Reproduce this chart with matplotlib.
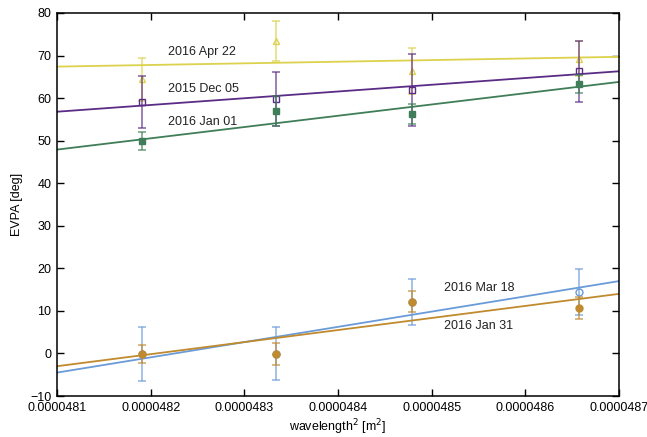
import matplotlib
matplotlib.use('Agg')
import matplotlib.pyplot as plt

plt.rcParams['font.family'] = ['Liberation Sans', 'DejaVu Sans']

# wavelength^2 of the four IFs [m^2]
wl2 = [4.81907e-5, 4.83337e-5, 4.84789e-5, 4.86571e-5]

# EVPA per epoch [deg] and errors
evpa_apr22 = [64.4, 73.4, 66.4, 69.3]
err_apr22 = [5.1, 4.6, 5.4, 4.2]
evpa_dec05 = [59.1, 59.8, 61.9, 66.3]
err_dec05 = [6.2, 6.4, 8.5, 7.1]
evpa_jan01 = [50.0, 57.0, 56.3, 63.4]
err_jan01 = [2.1, 3.6, 2.3, 2.1]
evpa_mar18 = [-0.1, -0.1, 12.1, 14.5]
err_mar18 = [6.4, 6.2, 5.3, 5.4]
evpa_jan31 = [-0.1, -0.1, 12.2, 10.7]
err_jan31 = [2.2, 2.6, 2.4, 2.5]

# linear fits, value at the left / right edge of the axis
fit_x = [4.81e-5, 4.87e-5]
fit_apr22 = [67.4, 69.7]
fit_dec05 = [56.8, 66.3]
fit_jan01 = [47.9, 63.8]
fit_mar18 = [-4.5, 17.0]
fit_jan31 = [-3.0, 14.0]

labels = ['2016 Apr 22', '2015 Dec 05', '2016 Jan 01', '2016 Mar 18', '2016 Jan 31']
label_x = [4.8219e-5, 4.8219e-5, 4.8219e-5, 4.8513e-5, 4.8513e-5]
label_y = [70.8, 62.1, 54.4, 15.4, 6.4]

fig = plt.figure(figsize=(6.47, 4.37), dpi=100)
ax = fig.add_axes([0.0881, 0.0938, 0.8686, 0.8765])

series = [
    (evpa_apr22, err_apr22, fit_apr22, '#dcd24e', '^', 'none'),
    (evpa_dec05, err_dec05, fit_dec05, '#5a2c86', 's', 'none'),
    (evpa_jan01, err_jan01, fit_jan01, '#3f7e58', 's', 'full'),
    (evpa_mar18, err_mar18, fit_mar18, '#6a9bd8', 'o', 'none'),
    (evpa_jan31, err_jan31, fit_jan31, '#c08a2e', 'o', 'full'),
]

for vals, errs, fit, col, mk, fill in series:
    ax.errorbar(wl2, vals, yerr=errs, fmt='none', ecolor=col, alpha=0.65,
                elinewidth=1.3, capsize=3, capthick=1.3)
    if fill == 'none':
        ax.plot(wl2, vals, linestyle='none', marker=mk, markersize=5,
                markerfacecolor='none', markeredgecolor=col, markeredgewidth=1.0)
    else:
        ax.plot(wl2, vals, linestyle='none', marker=mk, markersize=5,
                color=col)
    ax.plot(fit_x, fit, color=col, linewidth=1.3)

for t, x, y in zip(labels, label_x, label_y):
    ax.text(x, y, t, fontsize=9, ha='left', va='center', color='#222222')

ax.set_xlim(4.81e-5, 4.87e-5)
ax.set_ylim(-10, 80)
xt = [4.81e-5, 4.82e-5, 4.83e-5, 4.84e-5, 4.85e-5, 4.86e-5, 4.87e-5]
ax.set_xticks(xt)
ax.set_xticklabels(['%.7f' % v for v in xt])
ax.set_yticks(range(-10, 81, 10))
ax.tick_params(direction='in', top=True, right=True, labelsize=9, length=5,
               width=1, pad=4)
for s in ax.spines.values():
    s.set_linewidth(1.1)
ax.set_xlabel('wavelength$^2$ [m$^2$]', fontsize=9, labelpad=3)
ax.set_ylabel('EVPA [deg]', fontsize=9, labelpad=5)

fig.savefig('out.png', dpi=100)
